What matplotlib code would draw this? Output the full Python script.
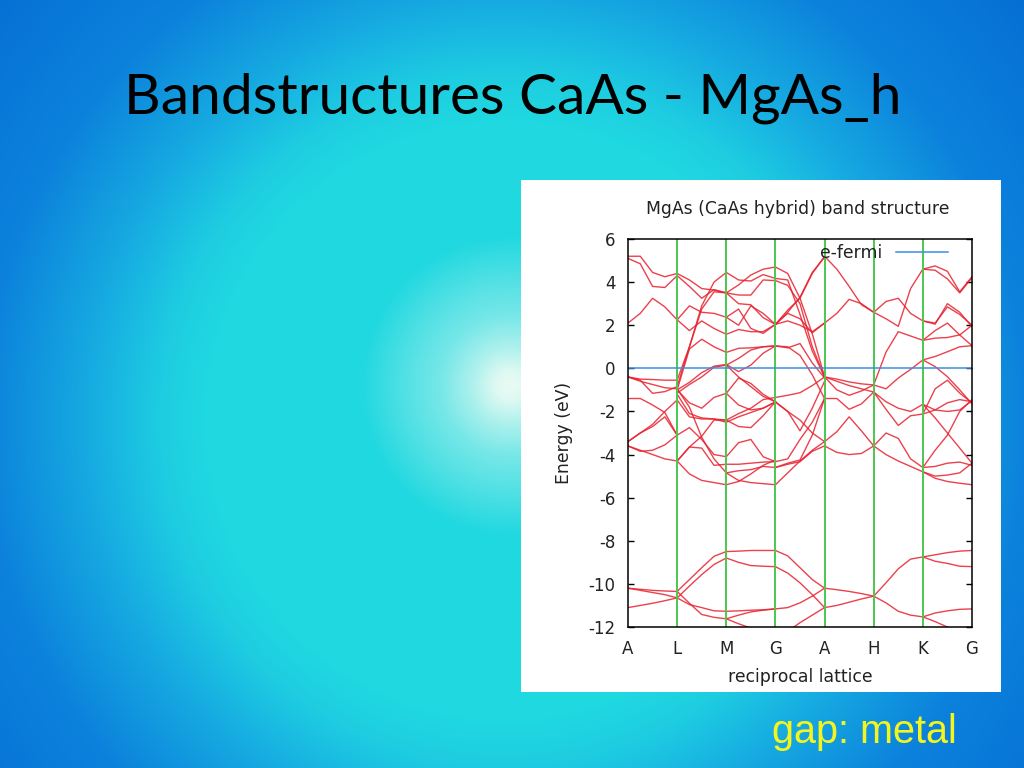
import numpy as np
import matplotlib
matplotlib.use("Agg")
import matplotlib.pyplot as plt

plt.rcParams["axes.unicode_minus"] = False

# k-path labels
k_labels = ["A", "L", "M", "G", "A", "H", "K", "G"]
k_pos = [0, 1, 2, 3, 4, 5, 6, 7]
y_ticks = [6, 4, 2, 0, -2, -4, -6, -8, -10, -12]

# band energies (eV), 5 samples per path section
seg_AL = [
    [5.2, 5.2, 4.45, 4.25, 4.4], [5.1, 4.85, 3.8, 3.75, 4.3],
    [2.1, 2.55, 3.25, 2.85, 2.25], [-0.4, -0.5, -0.52, -0.55, -0.55],
    [-0.4, -0.6, -0.75, -0.9, -0.95], [-0.4, -0.55, -1.16, -1.08, -0.85],
    [-1.4, -1.4, -1.7, -2.05, -3.1], [-3.4, -3.0, -2.6, -2.0, -1.47],
    [-3.4, -3.0, -2.7, -2.25, -3.1], [-3.6, -3.85, -3.8, -3.55, -3.1],
    [-3.6, -3.8, -4.0, -4.2, -4.3], [-10.2, -10.25, -10.3, -10.33, -10.35],
    [-10.2, -10.3, -10.4, -10.5, -10.65], [-11.1, -11.0, -10.9, -10.78, -10.65],
]
seg_LM = [
    [4.4, 4.1, 3.7, 3.63, 3.5], [4.3, 3.8, 3.25, 3.65, 3.5],
    [2.25, 2.9, 2.6, 2.55, 2.37], [2.25, 1.75, 2.2, 1.85, 1.58],
    [-0.55, 1.0, 2.9, 4.0, 4.45], [-0.85, 1.0, 2.75, 3.55, 3.5],
    [-1.0, 0.9, 1.35, 1.0, 0.74], [-1.0, -0.65, -0.2, 0.1, 0.18],
    [-1.15, -0.75, -0.4, 0.05, 0.15], [-1.47, -2.25, -2.35, -2.35, -2.4],
    [-0.95, -1.8, -3.2, -4.2, -4.85], [-1.2, -2.1, -2.3, -2.35, -2.5],
    [-1.0, -1.6, -1.85, -1.35, -1.16], [-3.1, -2.75, -3.3, -4.0, -4.1],
    [-4.3, -3.65, -3.15, -2.4, -2.4], [-4.3, -3.65, -3.7, -4.5, -4.45],
    [-4.3, -4.9, -5.2, -5.3, -5.4],
    [-10.35, -9.8, -9.25, -8.72, -8.5], [-10.65, -10.1, -9.57, -9.1, -8.8],
    [-10.65, -10.96, -11.1, -11.25, -11.27], [-10.35, -10.9, -11.42, -11.55, -11.62],
]
seg_MG = [
    [3.5, 3.87, 4.33, 4.6, 4.7], [4.45, 4.1, 4.05, 4.35, 4.17],
    [3.5, 3.4, 3.4, 4.1, 4.07], [3.5, 3.0, 2.95, 2.35, 2.04],
    [2.37, 2.0, 2.9, 2.55, 2.04], [2.37, 2.75, 1.85, 1.62, 2.04],
    [1.58, 1.8, 1.7, 1.7, 2.04], [0.74, 0.93, 0.95, 1.0, 1.04],
    [0.18, -0.15, 0.15, 0.7, 1.04], [0.15, 0.46, 0.85, 1.0, 1.04],
    [0.15, -0.4, -0.85, -1.3, -1.55], [-1.16, -0.45, -0.7, -1.2, -1.55],
    [-1.16, -1.7, -1.93, -1.85, -1.55], [-2.4, -2.1, -1.85, -1.45, -1.35],
    [-2.5, -2.25, -2.05, -1.85, -1.57], [-2.4, -2.7, -2.75, -2.2, -1.55],
    [-4.1, -3.45, -3.3, -4.1, -4.33], [-4.45, -4.45, -4.4, -4.35, -4.33],
    [-4.85, -4.75, -4.7, -4.55, -4.6], [-4.85, -5.2, -5.3, -5.35, -5.4],
    [-5.4, -5.25, -4.9, -4.5, -4.25],
    [-8.5, -8.48, -8.45, -8.45, -8.45], [-8.8, -9.0, -9.15, -9.18, -9.2],
    [-11.27, -11.25, -11.22, -11.2, -11.16], [-11.62, -11.45, -11.3, -11.22, -11.16],
    [-11.62, -11.85, -12.05, -12.3, -12.4],
]
seg_GA = [
    [4.7, 4.4, 3.25, 1.6, -0.4], [4.17, 4.1, 2.5, 0.8, -0.4],
    [4.07, 3.85, 3.0, 1.0, -0.4], [2.04, 2.7, 3.25, 4.4, 5.2],
    [2.04, 2.6, 3.3, 4.45, 5.15], [2.04, 2.55, 2.3, 1.65, 2.1],
    [2.04, 2.2, 2.0, 1.7, 2.1], [1.04, 0.95, 1.15, 0.25, -0.45],
    [1.04, 1.0, 0.6, -0.3, -1.4], [-1.35, -1.25, -1.13, -0.8, -0.4],
    [-1.55, -2.0, -2.9, -1.85, -0.6], [-4.33, -4.2, -3.3, -2.5, -1.4],
    [-4.6, -4.4, -4.25, -3.1, -1.4], [-1.57, -2.0, -2.4, -3.0, -3.4],
    [-5.4, -4.85, -4.3, -3.8, -3.4], [-4.6, -4.45, -4.33, -3.85, -3.6],
    [-8.45, -8.7, -9.25, -9.8, -10.2], [-9.2, -9.5, -9.95, -10.5, -11.1],
    [-11.16, -11.1, -10.88, -10.57, -10.2], [-12.4, -12.2, -11.8, -11.45, -11.1],
]
seg_AH = [
    [5.2, 4.6, 3.8, 2.95, 2.6], [2.1, 2.55, 3.2, 3.0, 2.6],
    [-0.4, -0.5, -0.63, -0.72, -0.77], [-0.4, -1.0, -1.25, -1.05, -0.77],
    [-0.4, -0.6, -0.8, -0.95, -1.1], [-1.4, -1.4, -1.9, -1.65, -1.1],
    [-3.4, -2.94, -2.25, -2.9, -3.6], [-3.6, -3.9, -4.0, -3.95, -3.6],
    [-10.2, -10.27, -10.35, -10.45, -10.57], [-11.1, -11.0, -10.85, -10.7, -10.57],
]
seg_HK = [
    [2.6, 3.1, 3.25, 2.55, 2.2], [2.6, 2.3, 1.95, 3.7, 4.6],
    [-0.77, -0.95, -0.45, -0.05, 0.39], [-0.77, 0.75, 1.7, 1.5, 1.3],
    [-1.1, -1.55, -1.85, -2.0, -1.67], [-1.1, -1.9, -2.65, -2.2, -2.12],
    [-3.6, -3.0, -3.25, -4.2, -4.6], [-3.6, -4.0, -4.3, -4.55, -4.8],
    [-10.57, -9.95, -9.3, -8.85, -8.75], [-10.57, -10.88, -11.27, -11.45, -11.53],
]
seg_KG = [
    [2.2, 2.05, 3.0, 2.6, 1.93], [2.2, 2.1, 2.85, 2.5, 2.0],
    [4.6, 4.75, 4.5, 3.55, 4.25], [4.6, 4.55, 4.15, 3.5, 4.2],
    [0.39, 0.55, 0.77, 1.0, 1.05], [0.39, 0.08, -0.39, -1.0, -1.65],
    [1.3, 1.75, 2.1, 1.55, 2.0], [1.3, 1.4, 1.43, 1.55, 1.05],
    [-1.67, -2.3, -3.0, -3.7, -4.4], [-1.67, -1.93, -2.0, -1.93, -1.5],
    [-2.12, -1.93, -1.6, -1.45, -1.55], [-2.12, -0.95, -0.55, -1.15, -1.6],
    [-4.6, -4.55, -4.4, -4.35, -4.5], [-4.6, -3.8, -3.1, -2.0, -1.45],
    [-4.8, -5.0, -4.95, -4.85, -4.4], [-4.8, -5.1, -5.25, -5.33, -5.4],
    [-8.75, -8.65, -8.55, -8.48, -8.45], [-8.75, -8.95, -9.05, -9.18, -9.2],
    [-11.53, -11.35, -11.25, -11.18, -11.16], [-11.53, -11.75, -12.0, -12.2, -12.4],
]
sections = [seg_AL, seg_LM, seg_MG, seg_GA, seg_AH, seg_HK, seg_KG]

W, H = 1024, 768
fig = plt.figure(figsize=(W / 100, H / 100), dpi=100)


def px_axes(x0, y0, x1, y1):
    # axes from pixel box, y measured from the top
    return fig.add_axes([x0 / W, 1 - y1 / H, (x1 - x0) / W, (y1 - y0) / H])


# slide background
bg = fig.add_axes([0, 0, 1, 1])
bg.axis("off")
yy, xx = np.mgrid[0:H, 0:W]
r_in = np.hypot(xx - 510, yy - 385)
r_out = np.hypot(xx - 505, yy - 420)
stops_r = [0, 300, 345, 420, 520, 800]
stops_c = np.array([[32, 216, 224], [32, 216, 224], [30, 205, 225],
                    [22, 170, 225], [12, 130, 220], [0, 95, 205]], float)
img = np.stack([np.interp(r_out, stops_r, stops_c[:, i]) for i in range(3)], axis=-1)
glow = np.interp(r_in, [0, 15, 40, 70, 100, 150], [0.9, 0.85, 0.62, 0.39, 0.25, 0.0])[..., None]
img = img * (1 - glow) + np.array([255, 255, 245.0]) * glow
bg.imshow(img.astype(np.uint8), extent=[0, W, H, 0], aspect="auto")
bg.set_xlim(0, W)
bg.set_ylim(H, 0)

bg.text(124, 98, "Bandstructures CaAs - MgAs_h", fontsize=40.9, family="Lato",
        color="black", va="center", ha="left")
bg.text(772, 732, "gap: metal", fontsize=28.5, family="Liberation Sans",
        color="#f4f41e", va="center", ha="left")

# white picture panel
panel = px_axes(521, 180, 1001, 692)
panel.set_xticks([])
panel.set_yticks([])
panel.set_facecolor("white")
for s in panel.spines.values():
    s.set_visible(False)

ax = px_axes(628, 239, 972, 627)
ax.set_xlim(0, 7)
ax.set_ylim(-12, 6)

k_sub = np.array([0, 0.25, 0.5, 0.75, 1.0])
for start, seg in enumerate(sections):
    for band in seg:
        ax.plot(start + k_sub, band, color="#e8202e", lw=1.0, alpha=0.85)

for k in k_pos[1:-1]:
    ax.axvline(k, color="#4cc850", lw=1.4)
ax.plot([0, 7], [0, 0], color="#3a90e0", lw=1.1, label="e-fermi")

ax.set_xticks(k_pos)
ax.set_xticklabels(k_labels)
ax.set_yticks(y_ticks)
ax.tick_params(axis="x", length=0, labelsize=12, labelcolor="#222222", pad=9)
ax.tick_params(axis="y", direction="in", length=4, width=1, right=True,
               labelsize=12, labelcolor="#222222", pad=9)
for s in ax.spines.values():
    s.set_linewidth(1.1)

ax.set_title("MgAs (CaAs hybrid) band structure", fontsize=12.4, color="#222222",
             x=0.494, y=1.0, pad=18)
ax.set_xlabel("reciprocal lattice", fontsize=12.4, color="#222222", labelpad=7.5)
ax.set_ylabel("Energy (eV)", fontsize=12.4, color="#222222", labelpad=11)
ax.legend(loc="upper right", bbox_to_anchor=(0.95, 1.004), frameon=False, fontsize=12.4,
          handlelength=3.0, handletextpad=0.8, borderaxespad=0.0, labelcolor="#222222",
          markerfirst=False)

fig.savefig("out.png", dpi=100)
